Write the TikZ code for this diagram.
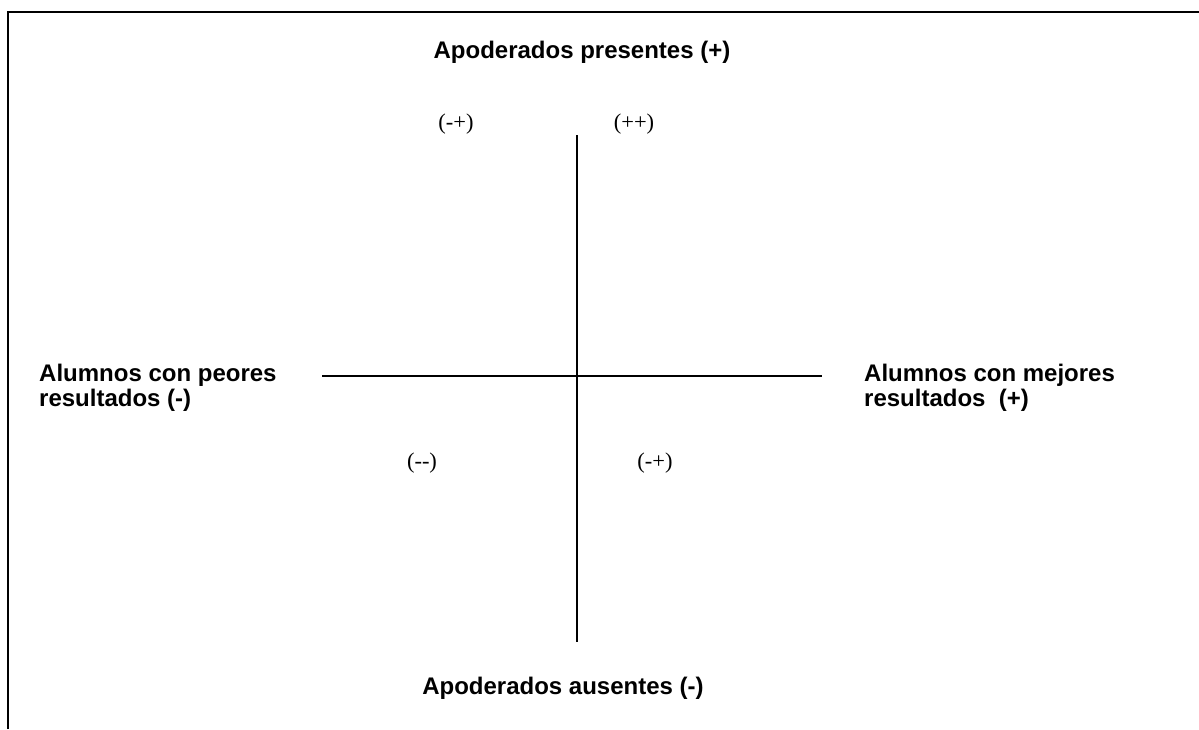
\documentclass[tikz,border=0pt]{standalone}
\usepackage{fontspec}
\setmainfont{Liberation Serif}[Ligatures=NoCommon]
\newfontfamily\labelfont{Liberation Sans}
\begin{document}
\begin{tikzpicture}[x=1pt,y=-1pt,
  axis/.style={line width=1.6pt,black},
  frameline/.style={line width=2.2pt,black},
  title/.style={font=\labelfont\bfseries\fontsize{24}{24}\selectfont,inner sep=0pt,anchor=base},
  side/.style={font=\labelfont\bfseries\fontsize{24}{24.5}\selectfont,align=left,inner sep=0pt,anchor=base west},
  quad/.style={font=\fontsize{22.5}{24}\selectfont,inner sep=0pt}]
  \useasboundingbox (0,0) rectangle (1199,729);
  % open frame: top and left edges
  \draw[frameline] (8,729) -- (8,12) -- (1199,12);
  % axes
  \coordinate (vtop) at (577,135);
  \coordinate (vbot) at (577,642);
  \coordinate (hleft) at (322,376);
  \coordinate (hright) at (822,376);
  \draw[axis] (vtop) -- (vbot);
  \draw[axis] (hleft) -- (hright);
  % axis titles
  \node[title] (top) at (582,58) {Apoderados presentes (+)};
  \node[title] (bottom) at (563,694) {Apoderados ausentes (-)};
  % two-line side labels, placed by the baseline of their last line
  \node[side] (left) at (39,406) {Alumnos con peores\\resultados (-)};
  \node[side] (right) at (864,406) {Alumnos con mejores\\resultados\ \ (+)};
  % quadrant labels
  \node[quad] (q1) at (456,124) {(-+)};
  \node[quad] (q2) at (634,124) {(++)};
  \node[quad] (q3) at (422,463) {(-{}-)};
  \node[quad] (q4) at (655,463) {(-+)};
\end{tikzpicture}
\end{document}
